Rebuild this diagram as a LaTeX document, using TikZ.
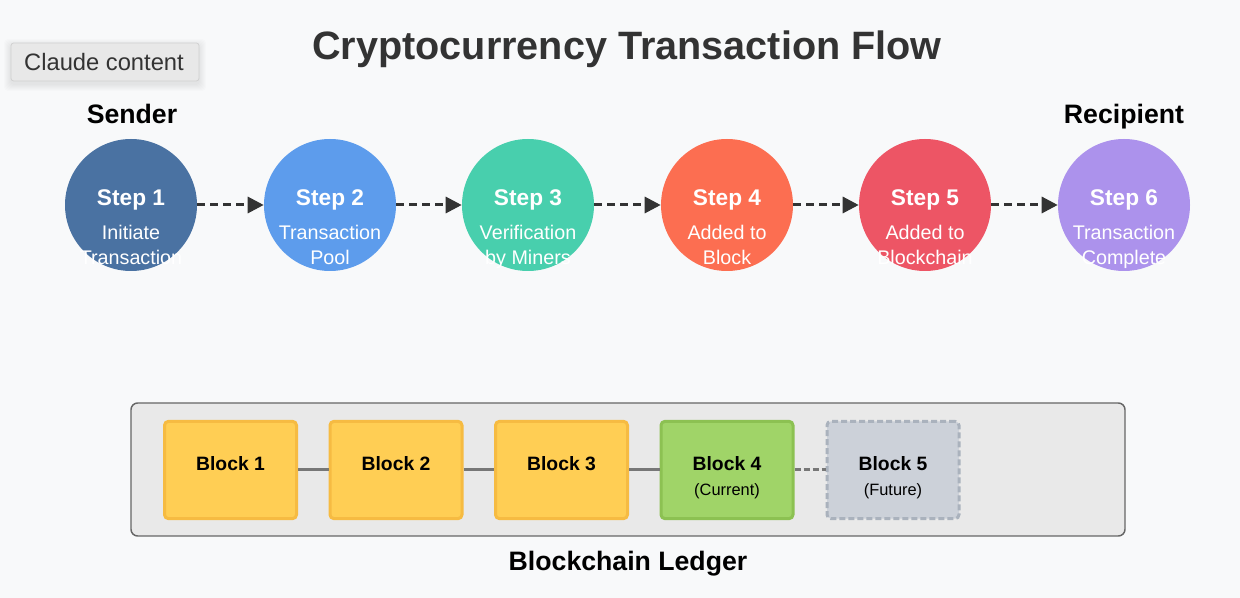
\documentclass[tikz,border=0pt]{standalone}
\usepackage{fontspec}
\setmainfont{Liberation Sans}
\usetikzlibrary{arrows.meta}
\definecolor{bg}{HTML}{F8F9FA}
\definecolor{titlec}{HTML}{333333}
\definecolor{cA}{HTML}{4A72A2}
\definecolor{cB}{HTML}{5D9CEC}
\definecolor{cC}{HTML}{48CFAD}
\definecolor{cD}{HTML}{FC6E51}
\definecolor{cE}{HTML}{ED5565}
\definecolor{cF}{HTML}{AC92EC}
\definecolor{yfill}{HTML}{FFCE54}
\definecolor{ydraw}{HTML}{F6BB42}
\definecolor{gfill}{HTML}{A0D468}
\definecolor{gdraw}{HTML}{8CC152}
\definecolor{ffill}{HTML}{CCD1D9}
\definecolor{fdraw}{HTML}{AAB2BD}
\definecolor{ledfill}{HTML}{E9E9E9}
\definecolor{leddraw}{HTML}{666666}
\definecolor{linkc}{HTML}{777777}
\definecolor{arrc}{HTML}{333333}
\tikzset{
  txt/.style={inner sep=0pt, text depth=0pt},
  stepcirc/.style={circle, minimum size=99pt, inner sep=0pt},
  steptitle/.style={txt, text=white, font=\bfseries\fontsize{17pt}{19pt}\selectfont},
  stepsub/.style={txt, text=white, font=\fontsize{14.8pt}{16pt}\selectfont},
  flowarrow/.style={draw=arrc, line width=2.25pt, dash pattern=on 6pt off 3.75pt, -{Triangle[length=12pt,width=12pt]}},
  blockbox/.style={rectangle, rounded corners=3pt, line width=2.25pt, minimum width=99pt, minimum height=73pt, inner sep=0pt},
  blocktitle/.style={txt, font=\bfseries\fontsize{14.5pt}{16pt}\selectfont},
  blocksub/.style={txt, font=\fontsize{12.3pt}{14pt}\selectfont},
  link/.style={draw=linkc, line width=2.25pt},
  headlabel/.style={txt, font=\bfseries\fontsize{20pt}{22pt}\selectfont},
}
\begin{document}
\begin{tikzpicture}[x=0.75pt,y=-0.75pt]
\fill[bg] (0,0) rectangle (1240,598);
\useasboundingbox (0,0) rectangle (1240,598);
% Claude content button with soft shadow
\foreach \d in {1,2,...,7}{
  \fill[black,opacity=0.012,rounded corners=3pt] (11-\d,43-\d+3) rectangle (199+\d,81+\d+3);
}
\node[draw=black!18, fill=black!9, rounded corners=2pt, minimum width=141pt, minimum height=28.5pt, inner sep=0pt, line width=0.6pt] (btn) at (105,62) {};
\node[txt, text=titlec, font=\fontsize{17.8pt}{19pt}\selectfont] (btntxt) at (104,62) {Claude content};
% title
\node[txt, text=titlec, font=\bfseries\fontsize{29.7pt}{32pt}\selectfont] (title) at (627,45) {Cryptocurrency Transaction Flow};
% labels
\node[headlabel] (sender) at (132,114) {Sender};
\node[headlabel] (recip) at (1124,114) {Recipient};
% circles
\foreach \i/\x/\c in {1/131/cA,2/330/cB,3/528/cC,4/727/cD,5/925/cE,6/1124/cF}{
  \node[stepcirc, fill=\c] (s\i) at (\x,205) {};
  \node[steptitle] (t\i) at (\x,198) {Step \i};
}
\node[stepsub] (a1) at (131,232) {Initiate};
\node[stepsub] (b1) at (131,257) {Transaction};
\node[stepsub] (a2) at (330,232) {Transaction};
\node[stepsub] (b2) at (330,257) {Pool};
\node[stepsub] (a3) at (528,232) {Verification};
\node[stepsub] (b3) at (528,257) {by Miners};
\node[stepsub] (a4) at (727,232) {Added to};
\node[stepsub] (b4) at (727,257) {Block};
\node[stepsub] (a5) at (925,232) {Added to};
\node[stepsub] (b5) at (925,257) {Blockchain};
\node[stepsub] (a6) at (1124,232) {Transaction};
\node[stepsub] (b6) at (1124,257) {Complete};
% arrows
\foreach \i/\j in {1/2,2/3,3/4,4/5,5/6}{
  \draw[flowarrow] (s\i.east) -- (s\j.west);
}
% ledger
\node[draw=leddraw, fill=ledfill, line width=1.1pt, rounded corners=5pt, minimum width=745.5pt, minimum height=99.75pt, inner sep=0pt] (ledger) at (628,469.5) {};
\node[headlabel] (ledlabel) at (628,561) {Blockchain Ledger};
% blocks
\node[blockbox, fill=yfill, draw=ydraw] (k1) at (230.5,470) {};
\node[blockbox, fill=yfill, draw=ydraw] (k2) at (396,470) {};
\node[blockbox, fill=yfill, draw=ydraw] (k3) at (561.5,470) {};
\node[blockbox, fill=gfill, draw=gdraw] (k4) at (727,470) {};
\node[blockbox, fill=ffill, draw=fdraw, dash pattern=on 4.5pt off 2.25pt] (k5) at (893,470) {};
\draw[link] (k1) -- (k2);
\draw[link] (k2) -- (k3);
\draw[link] (k3) -- (k4);
\draw[link, dash pattern=on 4.5pt off 2.25pt] (k4) -- (k5);
\node[blocktitle] (kt1) at (230.5,463) {Block 1};
\node[blocktitle] (kt2) at (396,463) {Block 2};
\node[blocktitle] (kt3) at (561.5,463) {Block 3};
\node[blocktitle] (kt4) at (727,463) {Block 4};
\node[blocktitle] (kt5) at (893,463) {Block 5};
\node[blocksub] (ks4) at (727,490) {(Current)};
\node[blocksub] (ks5) at (893,490) {(Future)};
\end{tikzpicture}
\end{document}
